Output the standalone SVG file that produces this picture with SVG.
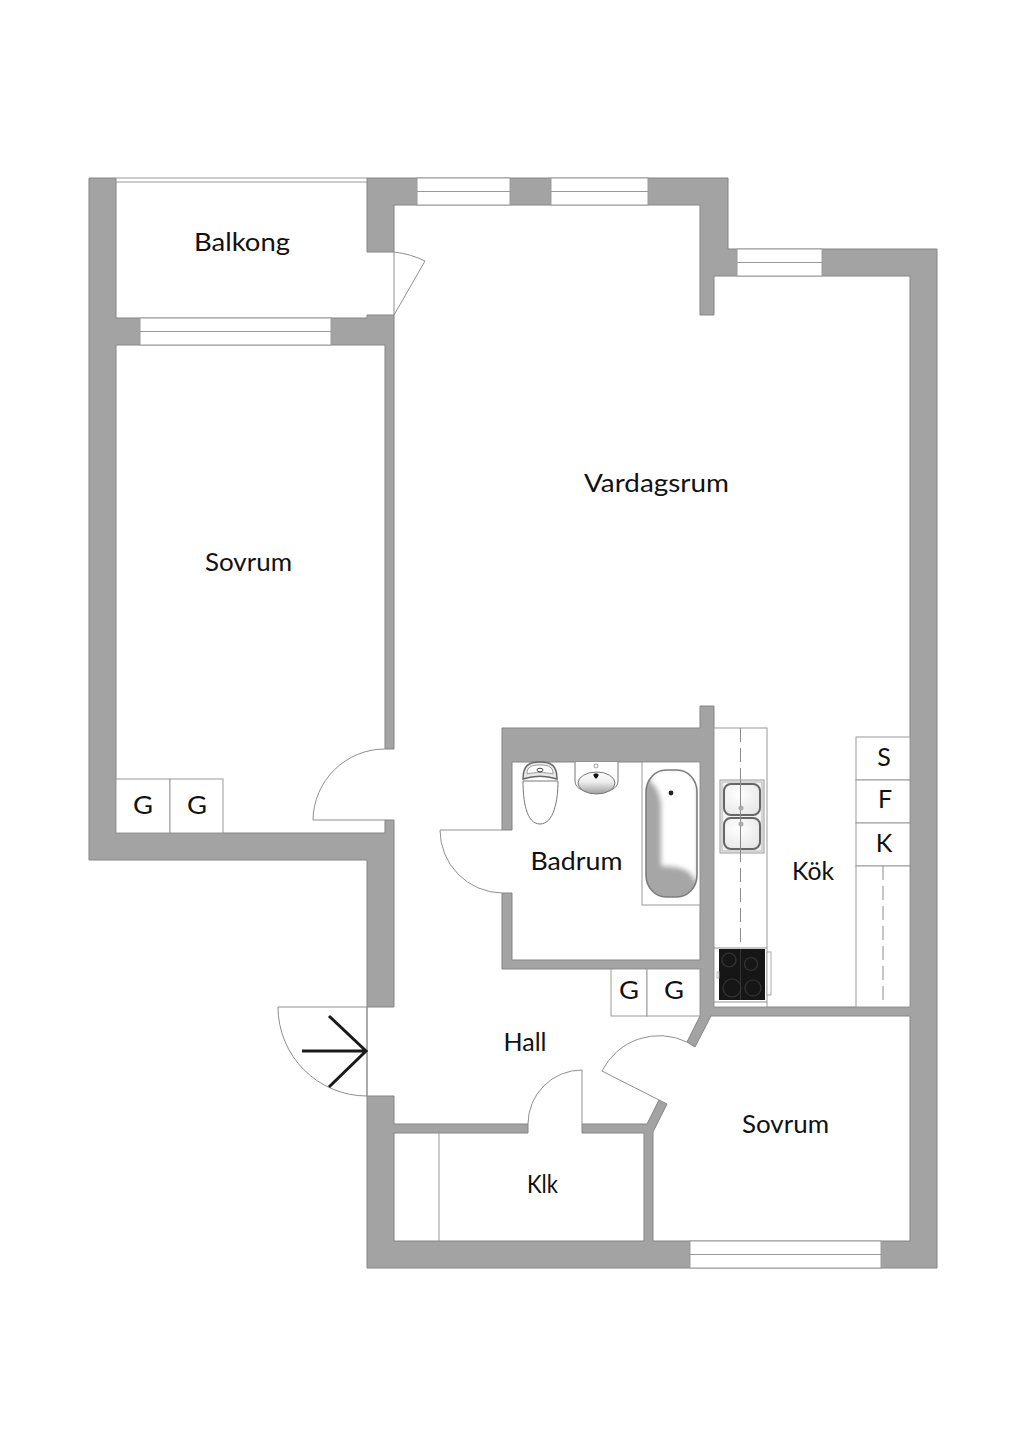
<svg xmlns="http://www.w3.org/2000/svg" width="1024" height="1449" viewBox="0 0 1024 1449">
<style>
.wall{fill:#a3a3a3;stroke:#858585;stroke-width:1;stroke-linejoin:miter}
.win{fill:#fff;stroke:#9c9c9c;stroke-width:1}
.line{fill:none;stroke:#8f8f8f;stroke-width:1}
.lt{fill:none;stroke:#999;stroke-width:1}
.box{fill:#fff;stroke:#999;stroke-width:1}
.dash{fill:none;stroke:#8a8a8a;stroke-width:1;stroke-dasharray:14 6}
.t{font-family:"Lato","Liberation Sans",sans-serif;font-size:25px;font-weight:400;fill:#111;text-anchor:middle}
.fx{fill:#fff;stroke:#777;stroke-width:1}
.ring{fill:none;stroke:#363636;stroke-width:1.2}
</style>
<defs>
<clipPath id="tubC"><rect x="646" y="770" width="51" height="127" rx="20" ry="22"/></clipPath>
<filter id="soft" x="-20%" y="-20%" width="140%" height="140%"><feGaussianBlur stdDeviation="2.500"/></filter>
<linearGradient id="basin" x1="0" y1="0" x2="0" y2="1"><stop offset="0" stop-color="#fff"/><stop offset="0.45" stop-color="#eee"/><stop offset="1" stop-color="#9e9e9e"/></linearGradient>
<radialGradient id="bowl" cx="0.4" cy="0.35" r="0.8"><stop offset="0" stop-color="#fff"/><stop offset="1" stop-color="#e4e4e4"/></radialGradient>
</defs>
<rect width="1024" height="1449" fill="#fff"/>

<g id="walls">
<path class="wall" d="M89 178H116V318H367V315H394V749H385V345H116V833H385V820H394V1007H367V860H89Z"/>
<path class="wall" d="M367 178H728V249H937V1268H367V1096H394V1124H528V1133H394V1241H644V1133H582V1124H647L659 1100L667 1104L653 1132V1241H910V1016H711L695 1047L687 1042L700 1016V969H502V893H512V960H700V762H512V830H502V728H700V706H714V1007H910V276H714V315H700V205H394V252H367Z"/>
</g>

<g id="windows">
<rect class="win" x="140" y="318" width="191" height="27"/><path class="lt" d="M140 331.500H331"/>
<rect class="win" x="417" y="178" width="93" height="27"/><path class="lt" d="M417 191.500H510"/>
<rect class="win" x="551" y="178" width="97" height="27"/><path class="lt" d="M551 191.500H648"/>
<rect class="win" x="737" y="249" width="85" height="27"/><path class="lt" d="M737 262.500H822"/>
<rect class="win" x="690" y="1241" width="191" height="27"/><path class="lt" d="M690 1254.500H881"/>
<path class="lt" d="M116 178H367M116 182H367"/>
</g>

<g id="doors">
<path class="line" d="M394 252V315L425 261Q411 254 394 252"/>
<path class="line" d="M385 749A72 72 0 0 0 313 820H385"/>
<path class="line" d="M502 830H440A63 63 0 0 0 502 893"/>
<path class="line" d="M367 1007H278A89 89 0 0 0 367 1096ZM367 1007V1096"/>
<path class="line" d="M528 1124A54 54 0 0 1 582 1070V1124"/>
<path class="line" d="M659 1100L602 1071A64 64 0 0 1 687 1042"/>
<path d="M302 1051H366M329 1016L366 1051L329 1087" fill="none" stroke="#1a1a1a" stroke-width="3"/>
</g>

<g id="closets">
<rect class="box" x="116" y="779" width="54" height="54"/><rect class="box" x="170" y="779" width="53" height="54"/>
<rect class="box" x="611" y="969" width="36" height="47"/><rect class="box" x="647" y="969" width="53" height="47"/>
<path class="lt" d="M439 1133V1241"/>
</g>

<g id="bath">
<rect class="box" x="642" y="762" width="58" height="143" stroke="#666"/>
<g clip-path="url(#tubC)">
<rect x="646" y="770" width="51" height="127" fill="#a6a6a6"/>
<path d="M650 768H698V884L689 872Q680 866 661 866V803Q658 786 650 782Z" fill="#fff" filter="url(#soft)"/>
</g>
<rect x="646" y="770" width="51" height="127" rx="20" ry="22" fill="none" stroke="#7d7d7d" stroke-width="1.600"/>
<circle cx="671" cy="793" r="2.400" fill="#222"/>
<path class="fx" d="M575 762V781Q575 787 582 790Q597 797 611 790Q618 787 618 781V762"/>
<ellipse cx="596.500" cy="783" rx="18.500" ry="11" fill="url(#basin)" stroke="#777"/>
<circle cx="596" cy="766" r="2" fill="#fff" stroke="#888" stroke-width="0.800"/>
<path d="M593 774.500H599L596 779Z" fill="#111"/><circle cx="596" cy="775.500" r="2.200" fill="#111"/>
<path class="fx" d="M523 781C523 800 526 824 540 824C554 824 558 800 558 781Z"/>
<path d="M523 779C523 766 528 762 540 762C552 762 557 766 557 779C545 775 535 775 523 779Z" fill="#e8e8e8" stroke="#666" stroke-width="1.500"/>
<path d="M527 774C527 767 531 765 540 765C549 765 553 767 553 774C545 772 535 772 527 774Z" fill="#fff" stroke="#888" stroke-width="0.800"/>
<ellipse cx="540" cy="770" rx="3" ry="1.800" fill="#fff" stroke="#444" stroke-width="1"/>
</g>

<g id="kitchen">
<rect class="box" x="714" y="728" width="53" height="279"/>
<rect class="box" x="856" y="737" width="54" height="43"/><rect class="box" x="856" y="780" width="54" height="43"/><rect class="box" x="856" y="823" width="54" height="43"/>
<rect class="box" x="856" y="866" width="54" height="141"/>
<path class="dash" d="M740.500 728V948"/>
<path class="dash" d="M883 866V1003"/>
<rect x="720" y="780" width="44" height="73" fill="#f2f2f2" stroke="#999"/>
<rect x="722" y="782" width="40" height="69" fill="none" stroke="#aaa" stroke-width="0.800"/>
<rect x="724" y="784" width="36" height="31" rx="7" fill="url(#bowl)" stroke="#666" stroke-width="2"/>
<rect x="724" y="818" width="36" height="31" rx="7" fill="url(#bowl)" stroke="#666" stroke-width="2"/>
<path d="M740.500 780V853" stroke="#8a8a8a" stroke-width="1"/>
<circle cx="741" cy="808" r="2.500" fill="#aaa"/><circle cx="741" cy="824" r="2.500" fill="#aaa"/>
<path class="line" d="M714 948H767"/>
<rect x="719" y="949" width="46" height="51" fill="#161616"/>
<path d="M740.500 949V1000" stroke="#3a3a3a" stroke-width="0.800"/>
<g class="ring"><circle cx="729" cy="960" r="7"/><circle cx="751" cy="964" r="6.500"/><circle cx="732" cy="988" r="9"/><circle cx="753" cy="988" r="8"/></g>
<rect x="767" y="952" width="4" height="43" fill="#fff" stroke="#aaa" stroke-width="1"/>
<rect x="717" y="972" width="2" height="6" fill="#fff" stroke="#aaa" stroke-width="0.800"/>
<path class="line" d="M714 1002H767"/>
</g>

<g id="labels">
<text class="t" x="242" y="251" textLength="96" lengthAdjust="spacingAndGlyphs">Balkong</text>
<text class="t" x="656.500" y="492" textLength="145" lengthAdjust="spacingAndGlyphs">Vardagsrum</text>
<text class="t" x="248.500" y="571" textLength="87" lengthAdjust="spacingAndGlyphs">Sovrum</text>
<text class="t" x="576.500" y="870" textLength="92" lengthAdjust="spacingAndGlyphs">Badrum</text>
<text class="t" x="813" y="880" textLength="42" lengthAdjust="spacingAndGlyphs">Kök</text>
<text class="t" x="525" y="1051" textLength="43" lengthAdjust="spacingAndGlyphs">Hall</text>
<text class="t" x="785.500" y="1133" textLength="87" lengthAdjust="spacingAndGlyphs">Sovrum</text>
<text class="t" x="542.500" y="1193" textLength="31" lengthAdjust="spacingAndGlyphs">Klk</text>
<text class="t" x="143" y="814" textLength="20" lengthAdjust="spacingAndGlyphs">G</text>
<text class="t" x="197" y="814" textLength="20" lengthAdjust="spacingAndGlyphs">G</text>
<text class="t" x="629" y="999" textLength="20" lengthAdjust="spacingAndGlyphs">G</text>
<text class="t" x="674" y="999" textLength="20" lengthAdjust="spacingAndGlyphs">G</text>
<text class="t" x="884" y="766">S</text>
<text class="t" x="885" y="808">F</text>
<text class="t" x="884" y="852">K</text>
</g>
</svg>
